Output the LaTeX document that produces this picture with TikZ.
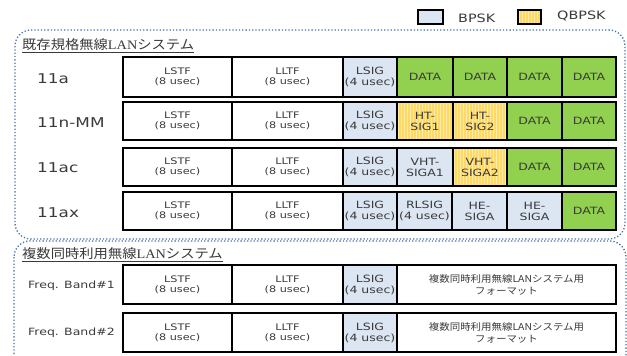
\documentclass[tikz,border=0pt]{standalone}
\usepackage{fontspec}
\setmainfont{DejaVu Sans}[FakeStretch=1.25]
\newfontfamily\jp{Noto Sans CJK JP}[FakeStretch=1.1]
\newfontfamily\ser{Liberation Serif}[FakeStretch=1.1]
\definecolor{bpsk}{HTML}{DCE6F2}
\definecolor{qb}{HTML}{FFD966}
\definecolor{qbs}{HTML}{FFEBA8}
\definecolor{dgreen}{HTML}{92D050}
\definecolor{regblue}{HTML}{4A6FA5}
\definecolor{txt}{HTML}{3A3A3A}
\tikzset{
  cellbase/.style={draw=black, line width=1.3pt, inner sep=0pt, align=center, text=txt},
  wcell/.style={cellbase, fill=white, font=\fontsize{9}{10}\selectfont},
  bcell/.style={cellbase, fill=bpsk, font=\fontsize{10}{11}\selectfont},
  gcell/.style={cellbase, fill=dgreen, font=\fontsize{10}{11}\selectfont},
  ycell/.style={cellbase, fill=qb, font=\fontsize{10}{11}\selectfont,
    path picture={\foreach \i in {1.5,4.5,...,60}
      \draw[qbs, line width=1.1pt] ([xshift=\i pt]path picture bounding box.south west) -- ++(0,60pt);}},
  fcell/.style={cellbase, fill=white, font=\jp\fontsize{9.5}{12}\selectfont},
  rowlab/.style={anchor=west, inner sep=0pt, text=txt, font=\fontsize{13.5}{14}\selectfont},
  freqlab/.style={anchor=west, inner sep=0pt, text=txt, font=\fontsize{10}{11}\selectfont},
  region/.style={draw=regblue, line width=1.3pt, dotted, rounded corners=16pt},
  title/.style={anchor=west, inner sep=0pt, text=txt, font=\jp\fontsize{13}{14}\selectfont},
  legtxt/.style={anchor=west, inner sep=0pt, text=txt, font=\fontsize{11.5}{12}\selectfont},
}
\newcommand\cellbox[7]{%
  \node[#6, minimum width={(#3-#2)*1pt}, minimum height={(#5-#4)*1pt}] (#1) at ({(#2+#3)/2},{(#4+#5)/2}) {#7};}
\begin{document}
\begin{tikzpicture}[x=1pt,y=-1pt]
\useasboundingbox (0,0) rectangle (627,356);
\begin{scope}
\clip (0,0) rectangle (627,356);
% regions
\draw[region] (15,30) rectangle (625,239);
\draw[region] (14,241) rectangle (626,380);
\end{scope}
% legend
\cellbox{lb}{418}{443}{10}{24}{bcell}{}
\node[legtxt] (lbt) at (458,18) {BPSK};
\cellbox{lq}{518}{541}{10}{24}{ycell}{}
\node[legtxt] (lqt) at (557,16) {QBPSK};
% titles
\node[title] (t1) at (22,46) {\underline{既存規格無線{\ser LAN}システム}};
\node[title] (t2) at (22,255) {\underline{複数同時利用無線{\ser LAN}システム}};
% row labels
\node[rowlab] (l1) at (37,79) {11a};
\node[rowlab] (l2) at (37,122.5) {11n-MM};
\node[rowlab] (l3) at (37,167.5) {11ac};
\node[rowlab] (l4) at (37,212.5) {11ax};
\node[freqlab] (l5) at (28,286) {Freq. Band\#1};
\node[freqlab] (l6) at (28,333) {Freq. Band\#2};
% row 11a
\cellbox{a1}{123}{232}{57}{97}{wcell}{LSTF\\(8 usec)}
\cellbox{a2}{232}{343}{57}{97}{wcell}{LLTF\\(8 usec)}
\cellbox{a3}{343}{397}{57}{97}{bcell}{LSIG\\(4 usec)}
\cellbox{a4}{397}{453}{57}{97}{gcell}{DATA}
\cellbox{a5}{453}{507}{57}{97}{gcell}{DATA}
\cellbox{a6}{507}{562}{57}{97}{gcell}{DATA}
\cellbox{a7}{562}{616}{57}{97}{gcell}{DATA}
% row 11n
\cellbox{n1}{123}{232}{102}{140}{wcell}{LSTF\\(8 usec)}
\cellbox{n2}{232}{343}{102}{140}{wcell}{LLTF\\(8 usec)}
\cellbox{n3}{343}{397}{102}{140}{bcell}{LSIG\\(4 usec)}
\cellbox{n4}{397}{453}{102}{140}{ycell}{HT-\\SIG1}
\cellbox{n5}{453}{507}{102}{140}{ycell}{HT-\\SIG2}
\cellbox{n6}{507}{562}{102}{140}{gcell}{DATA}
\cellbox{n7}{562}{616}{102}{140}{gcell}{DATA}
% row 11ac
\cellbox{c1}{123}{232}{148}{186}{wcell}{LSTF\\(8 usec)}
\cellbox{c2}{232}{343}{148}{186}{wcell}{LLTF\\(8 usec)}
\cellbox{c3}{343}{397}{148}{186}{bcell}{LSIG\\(4 usec)}
\cellbox{c4}{397}{453}{148}{186}{bcell}{VHT-\\SIGA1}
\cellbox{c5}{453}{507}{148}{186}{ycell}{VHT-\\SIGA2}
\cellbox{c6}{507}{562}{148}{186}{gcell}{DATA}
\cellbox{c7}{562}{616}{148}{186}{gcell}{DATA}
% row 11ax
\cellbox{x1}{123}{232}{192}{230}{wcell}{LSTF\\(8 usec)}
\cellbox{x2}{232}{343}{192}{230}{wcell}{LLTF\\(8 usec)}
\cellbox{x3}{343}{397}{192}{230}{bcell}{LSIG\\(4 usec)}
\cellbox{x4}{397}{452}{192}{230}{bcell}{RLSIG\\(4 usec)}
\cellbox{x5}{452}{507}{192}{230}{bcell}{HE-\\SIGA}
\cellbox{x6}{507}{562}{192}{230}{bcell}{HE-\\SIGA}
\cellbox{x7}{562}{616}{192}{230}{gcell}{DATA}
% freq band 1
\cellbox{f1}{123}{232}{265}{304}{wcell}{LSTF\\(8 usec)}
\cellbox{f2}{232}{343}{265}{304}{wcell}{LLTF\\(8 usec)}
\cellbox{f3}{343}{397}{265}{304}{bcell}{LSIG\\(4 usec)}
\cellbox{f4}{397}{616}{265}{304}{fcell}{複数同時利用無線LANシステム用\\フォーマット}
% freq band 2
\cellbox{g1}{123}{232}{313}{352}{wcell}{LSTF\\(8 usec)}
\cellbox{g2}{232}{343}{313}{352}{wcell}{LLTF\\(8 usec)}
\cellbox{g3}{343}{397}{313}{352}{bcell}{LSIG\\(4 usec)}
\cellbox{g4}{397}{616}{313}{352}{fcell}{複数同時利用無線LANシステム用\\フォーマット}
\end{tikzpicture}
\end{document}
